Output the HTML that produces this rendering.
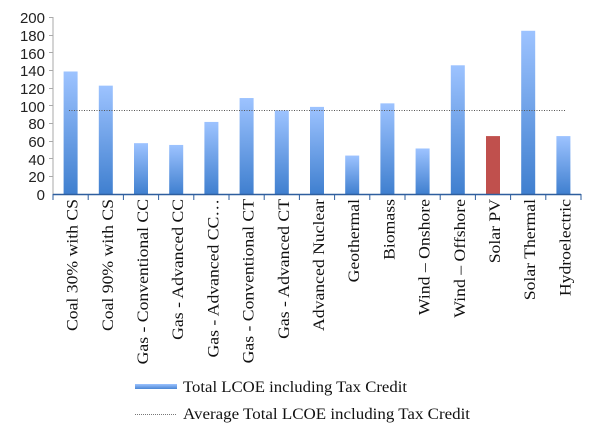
<!DOCTYPE html>
<html><head><style>body{margin:0;background:#fff}svg{display:block}</style></head><body>
<svg width="600" height="438" xmlns="http://www.w3.org/2000/svg">
<defs><linearGradient id="g" x1="0" y1="0" x2="0" y2="1"><stop offset="0" stop-color="#9dc3ff"/><stop offset="1" stop-color="#3f7fcf"/></linearGradient>
<linearGradient id="lg" x1="0" y1="0" x2="0" y2="1"><stop offset="0" stop-color="#9dc3ff"/><stop offset="1" stop-color="#4a86d4"/></linearGradient></defs>
<g font-family="Liberation Sans, sans-serif" font-size="15" fill="#222" text-anchor="end">
<text x="45" y="200">0</text><text x="45" y="182">20</text><text x="45" y="165">40</text><text x="45" y="147">60</text><text x="45" y="129">80</text><text x="45" y="112">100</text><text x="45" y="94">120</text><text x="45" y="76">140</text><text x="45" y="59">160</text><text x="45" y="41">180</text><text x="45" y="23">200</text>
</g>
<line x1="53" y1="17" x2="53" y2="195" stroke="#aaa"/>
<g fill="#aaa"><rect x="49" y="17" width="4" height="1"/><rect x="49" y="35" width="4" height="1"/><rect x="49" y="52" width="4" height="1"/><rect x="49" y="70" width="4" height="1"/><rect x="49" y="88" width="4" height="1"/><rect x="49" y="105" width="4" height="1"/><rect x="49" y="123" width="4" height="1"/><rect x="49" y="141" width="4" height="1"/><rect x="49" y="158" width="4" height="1"/><rect x="49" y="176" width="4" height="1"/></g>
<g id="bars"></g>
<line x1="53" y1="194.5" x2="581" y2="194.5" stroke="#2e5e9e" stroke-width="1.5"/>
<g id="ticks" stroke="#2e5e9e"></g>
<line x1="69" y1="110.5" x2="565" y2="110.5" stroke="#555" stroke-dasharray="1,1.5"/>
<g id="labels" font-family="Liberation Serif, serif" font-size="15.5" fill="#111" text-anchor="end"></g>
<rect x="135" y="384" width="42" height="5" fill="url(#lg)"/>
<text x="183" y="392" font-family="Liberation Serif, serif" font-size="16" fill="#111" textLength="224" lengthAdjust="spacingAndGlyphs">Total LCOE including Tax Credit</text>
<line x1="135" y1="414.5" x2="177" y2="414.5" stroke="#777" stroke-dasharray="1,1"/>
<text x="183" y="419" font-family="Liberation Serif, serif" font-size="16" fill="#111" textLength="287" lengthAdjust="spacingAndGlyphs">Average Total LCOE including Tax Credit</text>
</svg>
<script>
var v=[139,123,58,56,82,109,95,99,44,103,52,146,66,185,66];
var n=["Coal 30% with CS","Coal 90% with CS","Gas - Conventional CC","Gas - Advanced CC","Gas - Advanced CC…","Gas - Conventional CT","Gas - Advanced CT","Advanced Nuclear","Geothermal","Biomass","Wind – Onshore","Wind – Offshore","Solar PV","Solar Thermal","Hydroelectric"];
var ns="http://www.w3.org/2000/svg",w=35.2,b=document.getElementById("bars"),t=document.getElementById("ticks"),l=document.getElementById("labels");
for(var i=0;i<15;i++){var c=53+w*(i+.5),h=v[i]*0.885;
var r=document.createElementNS(ns,"rect");r.setAttribute("x",c-7);r.setAttribute("y",194.5-h);r.setAttribute("width",14);r.setAttribute("height",h);r.setAttribute("fill",i==12?"#c0504d":"url(#g)");b.appendChild(r);
var tx=document.createElementNS(ns,"text");tx.setAttribute("transform","translate("+(c+7)+",199) rotate(-90)");tx.textContent=n[i];l.appendChild(tx);
var len=tx.getComputedTextLength();tx.setAttribute("textLength",len*1.14);tx.setAttribute("lengthAdjust","spacingAndGlyphs");}
for(var i=0;i<=15;i++){var x=53+w*i,k=document.createElementNS(ns,"line");k.setAttribute("x1",x);k.setAttribute("x2",x);k.setAttribute("y1",194);k.setAttribute("y2",200);t.appendChild(k);}
</script>
</body></html>
